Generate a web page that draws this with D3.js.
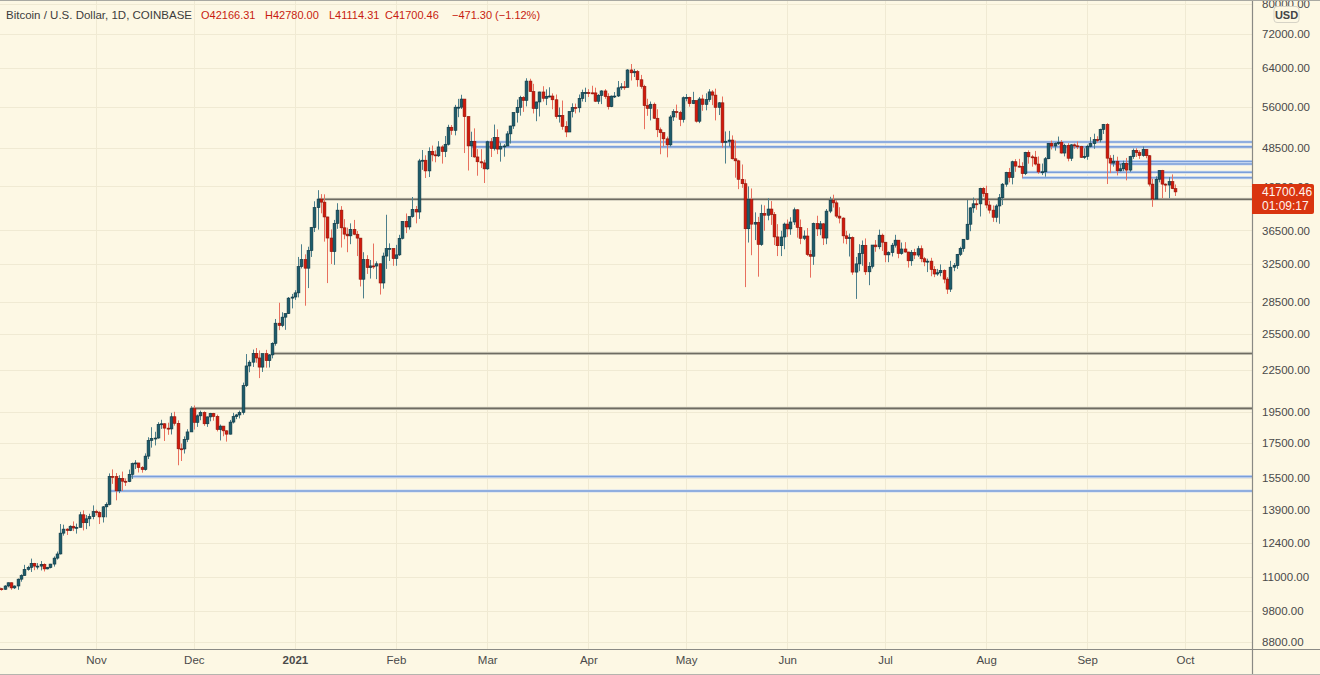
<!DOCTYPE html>
<html><head><meta charset="utf-8">
<script src="https://cdn.jsdelivr.net/npm/d3@7"></script>
<style>html,body{margin:0;padding:0;background:#fdf8e4;} svg{display:block;}</style>
</head><body><svg id="c" width="1320" height="675"></svg>
<script>
// ---------- DATA (daily candles, [open, high, low, close]) ----------
const startDate = "2020-10-02";
const oct20 = [
[10620,10660,10370,10570],[10570,10600,10500,10550],[10550,10700,10530,10670],[10670,10800,10620,10790],
[10790,10800,10530,10600],[10600,10690,10560,10670],[10670,10950,10530,10925],[10925,11110,10830,11060],
[11060,11480,11060,11300],[11300,11440,11250,11380],[11380,11730,11200,11540],[11540,11560,11270,11430],
[11430,11550,11300,11430],[11430,11630,11260,11500],[11500,11540,11220,11320],[11320,11400,11300,11370],
[11370,11520,11340,11510],[11510,11820,11410,11750],[11750,12020,11690,11920],[11920,13220,11900,12810],
[12810,13190,12700,12990],[12990,13030,12730,12930],[12930,13160,12900,13120],[13120,13340,12900,13040],
[13040,13240,12790,13070],[13070,13790,13070,13650],[13650,13860,12930,13280],[13280,13640,12990,13460],
[13460,13700,13120,13560],[13560,14100,13440,13800]];
const nov20 = [
[13800,13890,13620,13760],[13760,13820,13220,13550],[13550,14070,13290,14030],[14030,14250,13530,14150],
[14150,15750,14100,15590],[15590,15970,15190,15580],[15580,15770,14350,14830],[14830,15650,14710,15480],
[15480,15850,14820,15330],[15330,15480,15080,15310],[15310,15960,15280,15700],[15700,16350,15450,16290],
[16290,16490,15990,16330],[16330,16330,15800,16070],[16070,16150,15790,15960],[15960,16880,15900,16720],
[16720,17850,16550,17650],[17650,18480,17220,17780],[17780,18190,17350,17800],[17800,18800,17760,18660],
[18660,18960,18370,18700],[18700,18740,17620,18420],[18420,18770,18000,18370],[18370,19420,18020,19160],
[19160,19490,18580,18730],[18730,18920,16200,17150],[17150,17470,16440,17140],[17140,17900,16870,17720],
[17720,18350,17550,18180],[18180,19870,18180,19700]];
const dec20 = [
[19700,19920,18330,18790],[18790,19310,18500,19220],[19220,19570,18930,19450],[19450,19520,18570,18700],
[18700,19170,18500,19150],[19150,19420,18860,19380],[19380,19420,18900,19180],[19180,19300,18210,18330],
[18330,18650,17650,18550],[18550,18560,17910,18250],[18250,18280,17580,18040],[18040,18950,18020,18810],
[18810,19420,18720,19170],[19170,19350,19000,19280],[19280,19570,19050,19450],[19450,21560,19300,21340],
[21340,23800,21240,22840],[22840,23290,22350,23140],[23140,24170,22760,23860],[23860,24300,23090,23480],
[23480,24100,21900,22750],[22750,23850,22370,23830],[23830,24150,22700,23260],[23260,23800,22720,23730],
[23730,24790,23450,24700],[24700,26870,24500,26480],[26480,28420,25850,26280],[26280,27500,26120,27040],
[27040,27400,25880,27370],[27370,28990,27340,28880],[28880,29300,27870,28990]];
const jan21 = [
[28990,29680,28700,29410],[29410,33300,28950,32200],[32200,34790,32000,33000],[33000,33600,28130,32030],
[32030,34500,29900,34040],[34040,36940,33300,36860],[36860,40370,36300,39490],[39490,41950,36600,40670],
[40670,41380,38720,40250],[40250,41350,35110,38240],[38240,38260,30420,35550],[35550,36630,32500,33920],
[33920,37850,32400,37390],[37390,40100,36700,39150],[39150,39700,34400,36830],[36830,37950,35400,36030],
[36030,36850,33850,35820],[35820,37400,34800,36630],[36630,37850,35900,36020],[36020,36420,33400,35540],
[35540,35560,30070,30830],[30830,33850,28850,33010],[33010,33500,31400,32090],[32090,32950,30900,32280],
[32280,34880,31950,32270],[32270,32800,30840,32520],[32520,32550,29240,30430],[30430,33800,29840,33400],
[33400,38530,31950,34270],[34270,34900,32840,34300],[34300,34300,32300,33110]];
const feb21 = [
[33110,34720,32300,33540],[33540,35950,33420,35520],[35520,37660,35380,37660],[37660,38700,36160,36940],
[36940,38300,36600,38290],[38290,40970,38140,39260],[39260,39720,37400,38900],[38900,46750,37990,46420],
[46420,48200,45000,46530],[46530,47330,43750,44840],[44840,48650,43900,47990],[47990,48950,46350,47400],
[47400,48140,46200,47240],[47240,49700,47060,48720],[48720,49000,45990,47950],[47950,50600,47040,49170],
[49170,52600,48960,52150],[52150,52550,50800,51590],[51590,56350,50710,55900],[55900,57530,54000,55900],
[55900,58350,55550,57490],[57490,57490,47700,54090],[54090,54200,44900,48890],[48890,51350,47050,49680],
[49680,51950,46920,47060],[47060,48350,44100,46280],[46280,48350,45300,46100],[46100,46600,43000,45160]];
const mar21 = [
[45160,49780,45010,49600],[49600,50230,47050,48440],[48440,52640,48120,50350],[50350,51770,47520,48360],
[48360,49460,46300,48760],[48760,49200,47100,48880],[48880,51450,48880,50970],[50970,52420,49300,52380],
[52380,54900,51850,54880],[54880,57390,53000,55860],[55860,58150,54280,57800],[57800,58070,55000,57230],
[57230,61780,56050,61180],[61180,61680,59000,59000],[59000,60600,54700,55650],[55650,56970,53250,56920],
[56920,58970,54130,58920],[58920,60100,57000,57650],[57650,59450,56300,58030],[58030,59880,57830,58100],
[58100,58630,55500,57350],[57350,58400,53700,54100],[54100,55850,53000,54340],[54340,57200,51700,52300],
[52300,53250,50400,51300],[51300,55100,51300,55070],[55070,56650,53950,55850],[55850,56600,54700,55780],
[55780,58400,54900,57620],[57620,59400,57000,58780],[58780,59800,56900,58800]];
const apr21 = [
[58800,59500,57900,58740],[58740,60200,58450,58730],[58730,59800,56900,57060],[57060,58500,56500,58210],
[58210,59270,56500,59130],[59130,59500,57550,57990],[57990,58650,55450,56000],[56000,58200,55900,58080],
[58080,58900,57700,58100],[58100,61200,57900,59770],[59770,60750,59350,59980],[59980,61200,59350,59860],
[59860,63750,59860,63580],[63580,64900,61300,62960],[62960,63800,62050,63200],[63200,63570,60000,61460],
[61460,62500,59600,60060],[60060,60400,51800,56200],[56200,57550,54250,55680],[55680,57000,53400,56470],
[56470,56800,53650,53800],[53800,55500,50400,51700],[51700,52100,47500,51190],[51190,51200,48800,50100],
[50100,50500,47000,49070],[49070,54400,48800,54040],[54040,55500,53300,55050],[55050,56400,53900,54880],
[54880,55200,52350,53580],[53580,58000,53000,57760]];
const may21 = [
[57760,58500,57050,57830],[57830,57950,56000,56590],[56590,58950,56500,57200],[57200,57200,53000,53250],
[53250,57900,52900,57510],[57510,58350,55200,56440],[56440,58650,55300,57380],[57380,59500,56950,58930],
[58930,59300,56300,58280],[58280,59600,53400,55860],[55860,56900,54400,56750],[56750,58000,48600,49500],
[49500,51400,46000,49680],[49680,51500,48800,49890],[49890,50700,46650,46760],[46760,49800,43800,46430],
[46430,46600,42100,43560],[43560,45850,42300,42900],[42900,43550,30000,36710],[36710,42500,35000,40600],
[40600,42200,33500,37300],[37300,38850,35300,37540],[37540,38250,31100,34770],[34770,39900,34600,38710],
[38710,39800,36450,38470],[38470,40800,37800,39300],[39300,40400,37200,38550],[38550,38900,34700,35690],
[35690,37300,33400,34620],[34620,36450,33400,35680],[35680,37500,34200,37310]];
const jun21 = [
[37310,37900,35700,36690],[36690,38200,35950,37580],[37580,39500,37200,39200],[39200,39300,35600,36880],
[36880,37900,34800,35520],[35520,36500,35300,35800],[35800,36800,33400,33570],[33570,34100,31000,33380],
[33380,37500,32400,37390],[37390,38400,35800,36690],[36690,37700,35900,37340],[37340,37450,34700,35550],
[35550,39300,34800,39020],[39020,41000,38750,40520],[40520,41300,39500,40150],[40150,40500,38100,38350],
[38350,39550,37400,38090],[38090,38200,34900,35820],[35820,36450,34800,35480],[35480,36100,33350,35600],
[35600,35750,31300,31600],[31600,33300,28800,32510],[32510,34800,31700,33690],[33690,35250,32300,34670],
[34670,35500,31300,31630],[31630,32700,30200,32240],[32240,34700,32000,34700],[34700,35300,33900,34490],
[34490,36600,34200,35900],[35900,36100,34000,35040]];
const jul21 = [
[35040,35050,32700,33540],[33540,33950,32700,33800],[33800,34950,33350,34680],[34680,35950,34400,35290],
[35290,35300,33150,33700],[33700,35000,33550,34230],[34230,35050,33800,33870],[33870,33900,32100,32860],
[32860,34100,32300,33820],[33820,34250,33050,33520],[33520,34600,33300,34260],[34260,34650,32700,33090],
[33090,33300,32250,32730],[32730,33100,31600,32820],[32820,33200,31150,31880],[31880,32250,31050,31390],
[31390,31950,31200,31530],[31530,32450,31150,31780],[31780,31900,30400,30840],[30840,31050,29300,29790],
[29790,32850,29500,32140],[32140,32600,31700,32310],[32310,33650,31950,33600],[33600,34500,33400,34290],
[34290,35400,33900,35400],[35400,40550,35300,37290],[37290,39550,36400,39460],[39460,40900,38800,40020],
[40020,40650,39200,40010],[40010,42300,38300,42200],[42200,42400,41000,41460]];
const aug21 = [
[41460,42600,39400,39850],[39850,40450,38700,39150],[39150,39800,37600,38200],[38200,39950,37550,39720],
[39720,41400,37350,40870],[40870,43000,39850,42830],[42830,44700,42450,44610],[44610,45300,43100,43830],
[43830,46450,42800,46290],[46290,46700,44700,45590],[45590,46750,45350,45560],[45560,46200,43800,44420],
[44420,47900,44200,47820],[47820,48150,45980,47080],[47080,47400,45500,47020],[47020,48050,45700,45920],
[45920,47150,44400,44690],[44690,46000,44200,44710],[44710,47050,43950,46770],[46770,49380,46700,49320],
[49320,49800,48300,48870],[48870,49500,48100,49280],[49280,50500,49050,49510],[49510,49880,47600,47700],
[47700,49250,47150,48970],[48970,49350,46350,46850],[46850,49200,46400,49070],[49070,49300,48400,48900],
[48900,49650,48350,48810],[48810,48900,46900,46990],[46990,48500,46750,47160]];
const sep21 = [
[47160,49100,46600,48830],[48830,50400,48650,49270],[49270,51000,48400,49980],[49980,50550,49500,49920],
[49920,51900,49500,51760],[51760,52750,50950,52660],[52660,52900,42850,46860],[46860,47350,44500,46070],
[46070,47400,45500,46370],[46370,47100,44150,44850],[44850,45950,44750,45170],[45170,46450,44800,46030],
[46030,46900,43400,44970],[44970,47250,44700,47110],[47110,48450,46750,48140],[48140,48500,47050,47760],
[47760,48150,46750,47290],[47290,48800,47100,48300],[48300,48350,46850,47260],[47260,47350,42500,42840],
[42840,43650,39600,40690],[40690,44000,40550,43570],[43570,44950,43100,44900],[44900,45000,40800,42840],
[42840,42950,41700,42700],[42700,43900,40800,43200],[43200,44300,42100,42170],[42166.31,42780,41114.31,41700.46]];

const priceTicks = [80000,72000,64000,56000,48500,42500,36500,32500,28500,25500,22500,19500,17500,15500,13900,12400,11000,9800,8800];
const monthTickDates = ["2020-11-01","2020-12-01","2021-01-01","2021-02-01","2021-03-01","2021-04-01","2021-05-01","2021-06-01","2021-07-01","2021-08-01","2021-09-01","2021-10-01"];
const monthTickLabels = ["Nov","Dec","2021","Feb","Mar","Apr","May","Jun","Jul","Aug","Sep","Oct"];

// horizontal levels drawn on the chart
const levelPrices = [40650, 23850, 19720, 15580, 14820, 49560, 48720, 46300, 45930, 44630, 43800];
const levelStarts = ["2021-01-08","2020-12-25","2020-11-30","2020-11-11","2020-11-05","2021-02-24","2021-02-24","2021-09-08","2021-09-08","2021-08-12","2021-08-12"];
const levelKinds  = ["gray","gray","gray","blue","blue","blue","blue","blue","blue","blue","blue"];

const titleText = "Bitcoin / U.S. Dollar, 1D, COINBASE";
const ohlcLabels = ["O42166.31","H42780.00","L41114.31","C41700.46","\u2212471.30 (\u22121.12%)"];
const lastPrice = 41700.46;
const countdown = "01:09:17";
const currency = "USD";

// ---------- LAYOUT ----------
const W = 1320, H = 675, plotR = 1252, plotB = 649;
const BG = "#fdf8e4";
const UP_FILL = "#1d5c6b", UP_EDGE = "#0b3340", UP_WICK = "#4d7f8b";
const DN_FILL = "#d2190b", DN_EDGE = "#8c1308", DN_WICK = "#e8705e";
const RED_TXT = "#c81c10";
const FONT = "'Liberation Sans', Arial, sans-serif";

const parse = d3.utcParse("%Y-%m-%d");
const rows = [].concat(oct20, nov20, dec20, jan21, feb21, mar21, apr21, may21, jun21, jul21, aug21, sep21);
const d0 = parse(startDate);
const candles = rows.map((r, i) => ({date: d3.utcDay.offset(d0, i), o: r[0], h: r[1], l: r[2], c: r[3]}));

const x = d3.scaleUtc().domain([parse("2020-11-01"), parse("2021-10-01")]).range([96, 1185]);
const y = d3.scaleLog().domain([8800, 72000]).range([641.7, 34]);

const svg = d3.select("#c");
svg.append("rect").attr("width", W).attr("height", H).attr("fill", BG);

const defs = svg.append("defs");
defs.append("clipPath").attr("id", "plot").append("rect").attr("x", 0).attr("y", 0).attr("width", plotR).attr("height", plotB);

// grid
const grid = svg.append("g").attr("clip-path", "url(#plot)");
grid.selectAll("line.h").data(priceTicks).join("line")
  .attr("x1", 0).attr("x2", plotR).attr("y1", d => Math.round(y(d)) + 0.5).attr("y2", d => Math.round(y(d)) + 0.5)
  .attr("stroke", "#f0ead3").attr("stroke-width", 1);
grid.selectAll("line.v").data(monthTickDates).join("line")
  .attr("y1", 0).attr("y2", plotB).attr("x1", d => Math.round(x(parse(d))) + 0.5).attr("x2", d => Math.round(x(parse(d))) + 0.5)
  .attr("stroke", "#f0ead3").attr("stroke-width", 1);

// level lines
const lv = svg.append("g").attr("clip-path", "url(#plot)");
levelPrices.forEach((p, i) => {
  const yy = y(p);
  const x0 = x(parse(levelStarts[i]));
  const isGray = levelKinds[i] === "gray";
  lv.append("line").attr("x1", x0).attr("x2", plotR).attr("y1", yy).attr("y2", yy)
    .attr("stroke", isGray ? "#d9d5c4" : "#cfdcf2").attr("stroke-width", 3.2);
  lv.append("line").attr("x1", x0).attr("x2", plotR).attr("y1", yy).attr("y2", yy)
    .attr("stroke", isGray ? "#6e6c62" : "#7b9fd9").attr("stroke-width", 1.6);
});

// candles
const cg = svg.append("g").attr("clip-path", "url(#plot)");
candles.forEach(d => {
  const cx = Math.round(x(d.date));
  const up = d.c >= d.o;
  cg.append("line").attr("x1", cx + 0.5).attr("x2", cx + 0.5).attr("y1", y(d.h)).attr("y2", y(d.l))
    .attr("stroke", up ? UP_WICK : DN_WICK).attr("stroke-width", 1);
  const top = y(Math.max(d.o, d.c)), bot = y(Math.min(d.o, d.c));
  const hgt = Math.max(1, bot - top);
  cg.append("rect").attr("x", cx - 0.9).attr("width", 2.8).attr("y", top).attr("height", hgt)
    .attr("fill", up ? UP_FILL : DN_FILL).attr("stroke", up ? UP_EDGE : DN_EDGE).attr("stroke-width", 0.6);
});

// axes
const yAxis = d3.axisRight(y).tickValues(priceTicks).tickFormat(d => d.toFixed(2)).tickSize(0).tickPadding(10);
const ya = svg.append("g").attr("transform", `translate(${plotR},0)`).call(yAxis);
ya.select(".domain").remove();
ya.selectAll("text").attr("font-family", FONT).attr("font-size", 11.5).attr("fill", "#4a4a4a");

const xAxis = d3.axisBottom(x).tickValues(monthTickDates.map(parse)).tickFormat((d, i) => monthTickLabels[i]).tickSize(0).tickPadding(7);
const xa = svg.append("g").attr("transform", `translate(0,${plotB})`).call(xAxis);
xa.select(".domain").remove();
xa.selectAll("text").attr("font-family", FONT).attr("font-size", 11.5).attr("fill", "#4a4a4a")
  .attr("font-weight", (d, i) => monthTickLabels[i] === "2021" ? "bold" : null);

// separators / borders
svg.append("line").attr("x1", plotR + 0.5).attr("x2", plotR + 0.5).attr("y1", 0).attr("y2", H).attr("stroke", "#8a8a85").attr("stroke-width", 1.2);
svg.append("line").attr("x1", 0).attr("x2", W).attr("y1", plotB + 0.5).attr("y2", plotB + 0.5).attr("stroke", "#8a8a85").attr("stroke-width", 1.2);
svg.append("line").attr("x1", 0).attr("x2", W).attr("y1", 0.5).attr("y2", 0.5).attr("stroke", "#a9a9a2").attr("stroke-width", 1);
svg.append("line").attr("x1", 0).attr("x2", W).attr("y1", H - 0.5).attr("y2", H - 0.5).attr("stroke", "#b5b5ae").attr("stroke-width", 1);

// last price label
const ly = y(lastPrice);
const lab = svg.append("g");
lab.append("path")
  .attr("d", `M${plotR},${ly - 8} h60 a2,2 0 0 1 2,2 v26 a2,2 0 0 1 -2,2 h-60 Z`)
  .attr("fill", "#d9350f");
lab.append("text").attr("x", 1262).attr("y", ly).attr("dy", "0.35em").text(d3.format(".2f")(lastPrice))
  .attr("font-family", FONT).attr("font-size", 12).attr("fill", "#fff3ee");
lab.append("text").attr("x", 1262).attr("y", ly + 14).attr("dy", "0.35em").text(countdown)
  .attr("font-family", FONT).attr("font-size", 12).attr("fill", "#fff3ee");

// currency badge
svg.append("rect").attr("x", 1274).attr("y", 6.5).attr("width", 25).attr("height", 16).attr("rx", 3)
  .attr("fill", BG).attr("stroke", "#d6d3c6");
svg.append("text").attr("x", 1286.5).attr("y", 15).attr("dy", "0.35em").attr("text-anchor", "middle")
  .text(currency).attr("font-family", FONT).attr("font-size", 11).attr("font-weight", "bold").attr("fill", "#444");

// header
svg.append("text").attr("x", 6).attr("y", 15).attr("dy", "0.35em").text(titleText)
  .attr("font-family", FONT).attr("font-size", 11.5).attr("fill", "#3c3c3c");
const hx = [201, 265, 329, 385, 452];
ohlcLabels.forEach((t, i) => {
  svg.append("text").attr("x", hx[i]).attr("y", 15).attr("dy", "0.35em").text(t)
    .attr("font-family", FONT).attr("font-size", 11).attr("fill", RED_TXT);
});
</script></body></html>
